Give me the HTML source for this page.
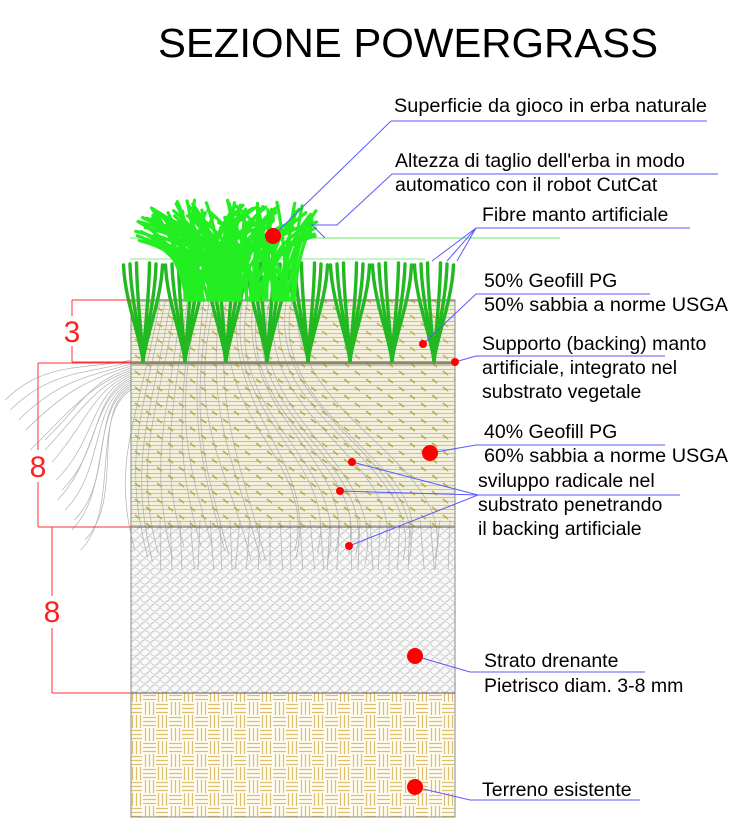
<!DOCTYPE html>
<html><head><meta charset="utf-8"><style>
html,body{margin:0;padding:0;background:#fff;}
svg{display:block;}
text{font-family:"Liberation Sans",sans-serif;}
</style></head><body>
<svg id="s" width="740" height="840" viewBox="0 0 740 840" xmlns="http://www.w3.org/2000/svg">
<defs>
<pattern id="sand" width="12" height="4" patternUnits="userSpaceOnUse">
<rect width="12" height="4" fill="#f3f0dc"/>
<line x1="0" y1="1.5" x2="12" y2="1.5" stroke="#bdb68a" stroke-width="0.8"/>
</pattern>
<pattern id="dash" width="22" height="16" patternUnits="userSpaceOnUse">
<line x1="3" y1="3" x2="8" y2="7" stroke="#b0a030" stroke-width="1.6"/>
<line x1="14" y1="11" x2="19" y2="15" stroke="#b0a030" stroke-width="1.6"/>
</pattern>
<pattern id="grav" width="10" height="9" patternUnits="userSpaceOnUse">
<rect width="10" height="9" fill="#fafafa"/>
<ellipse cx="5" cy="4.5" rx="4.3" ry="3.6" fill="none" stroke="#c8c8c8" stroke-width="0.8"/>
<ellipse cx="0" cy="0" rx="4.3" ry="3.6" fill="none" stroke="#d0d0d0" stroke-width="0.6"/>
<ellipse cx="10" cy="9" rx="4.3" ry="3.6" fill="none" stroke="#d0d0d0" stroke-width="0.6"/>
</pattern>
<pattern id="weave" width="26" height="26" patternUnits="userSpaceOnUse">
<rect width="26" height="26" fill="#fffdf6"/>
<g stroke="#dcc070" stroke-width="1.3">
<line x1="0" y1="2.5" x2="12" y2="2.5"/><line x1="0" y1="6.5" x2="12" y2="6.5"/><line x1="0" y1="10.5" x2="12" y2="10.5"/>
<line x1="15.5" y1="0" x2="15.5" y2="13"/><line x1="19.5" y1="0" x2="19.5" y2="13"/><line x1="23.5" y1="0" x2="23.5" y2="13"/>
<line x1="2.5" y1="13" x2="2.5" y2="26"/><line x1="6.5" y1="13" x2="6.5" y2="26"/><line x1="10.5" y1="13" x2="10.5" y2="26"/>
<line x1="13" y1="15.5" x2="26" y2="15.5"/><line x1="13" y1="19.5" x2="26" y2="19.5"/><line x1="13" y1="23.5" x2="26" y2="23.5"/>
</g>
</pattern>
</defs>

<text x="408" y="57" font-size="41" text-anchor="middle" textLength="500" lengthAdjust="spacingAndGlyphs" fill="#000">SEZIONE POWERGRASS</text>

<rect x="131" y="300" width="324" height="63" fill="url(#sand)"/>
<rect x="131" y="300" width="324" height="63" fill="url(#dash)" opacity="0.7"/>
<rect x="131" y="363" width="324" height="164" fill="url(#sand)"/>
<rect x="131" y="363" width="324" height="164" fill="url(#dash)" opacity="0.8"/>
<rect x="131" y="527" width="324" height="166" fill="url(#grav)"/>
<rect x="131" y="693" width="324" height="124" fill="url(#weave)"/>
<g id="roots" fill="none" stroke="#a8a8a8" stroke-width="0.8" opacity="0.8"></g>
<g fill="none" stroke="#555" stroke-width="1">
<rect x="131" y="300" width="324" height="517" stroke="#888"/>
<line x1="131" y1="300" x2="455" y2="300"/>
<line x1="131" y1="527" x2="455" y2="527"/>
<line x1="131" y1="693" x2="455" y2="693"/>
</g>
<rect x="131" y="361.5" width="324" height="3" fill="#8a8670"/>

<g id="art" fill="none" stroke="#22b822" stroke-width="3.4" stroke-linecap="round"></g>
<line x1="130" y1="238" x2="560" y2="238" stroke="#66ee66" stroke-width="1"/>
<line x1="130" y1="259" x2="425" y2="259" stroke="#88ee88" stroke-width="1"/>
<g id="nat" fill="none" stroke="#22ee22" stroke-width="3.2" stroke-linecap="round"></g>

<g stroke="#ff3030" stroke-width="1" fill="none">
<line x1="72" y1="300" x2="72" y2="362"/><line x1="72" y1="300" x2="131" y2="300"/><line x1="72" y1="362" x2="131" y2="362"/>
<line x1="38" y1="363" x2="38" y2="527"/><line x1="38" y1="363" x2="131" y2="363"/><line x1="38" y1="527" x2="131" y2="527"/>
<line x1="52" y1="527" x2="52" y2="693"/><line x1="52" y1="693" x2="131" y2="693"/>
</g>
<g font-size="30" fill="#ff2020" text-anchor="middle">
<rect x="58" y="316" width="28" height="30" fill="#fff"/>
<text x="72" y="342">3</text>
<rect x="24" y="450" width="28" height="32" fill="#fff"/>
<text x="38" y="477">8</text>
<rect x="38" y="596" width="28" height="32" fill="#fff"/>
<text x="52" y="622">8</text>
</g>

<g stroke="#5a5aff" stroke-width="1" fill="none">
<line x1="391" y1="121" x2="707" y2="121"/><line x1="391" y1="121" x2="273" y2="236"/>
<line x1="392" y1="174" x2="718" y2="174"/><polyline points="392,174 337,225 312,225 325,238"/>
<line x1="476" y1="228" x2="690" y2="228"/><line x1="476" y1="228" x2="432" y2="261"/><line x1="476" y1="228" x2="447" y2="261"/><line x1="476" y1="228" x2="457" y2="261"/>
<line x1="476" y1="294" x2="650" y2="294"/><line x1="476" y1="294" x2="423" y2="344"/>
<line x1="476" y1="356" x2="665" y2="356"/><line x1="476" y1="356" x2="455" y2="362"/>
<line x1="476" y1="445" x2="665" y2="445"/><line x1="476" y1="445" x2="430" y2="453"/>
<line x1="478" y1="495" x2="680" y2="495"/><line x1="478" y1="495" x2="352" y2="462"/><line x1="478" y1="495" x2="340" y2="491"/><line x1="478" y1="495" x2="349" y2="546"/>
<line x1="470" y1="672" x2="645" y2="672"/><line x1="470" y1="672" x2="415" y2="656"/>
<line x1="470" y1="800" x2="640" y2="800"/><line x1="470" y1="800" x2="415" y2="787"/>
</g>
<g fill="#ff0000">
<circle cx="273" cy="236" r="8"/>
<circle cx="423" cy="344" r="4"/>
<circle cx="455" cy="362" r="4"/>
<circle cx="430" cy="453" r="8"/>
<circle cx="352" cy="462" r="4"/>
<circle cx="340" cy="491" r="4"/>
<circle cx="349" cy="546" r="4"/>
<circle cx="415" cy="656" r="8"/>
<circle cx="415" cy="787" r="8"/>
</g>

<g font-size="19.5" fill="#000">
<text x="394" y="112" textLength="313" lengthAdjust="spacingAndGlyphs">Superficie da gioco in erba naturale</text>
<text x="395" y="167">Altezza di taglio dell'erba in modo</text>
<text x="395" y="191">automatico con il robot CutCat</text>
<text x="482" y="221">Fibre manto artificiale</text>
<text x="484" y="287">50% Geofill PG</text>
<text x="484" y="311" textLength="244" lengthAdjust="spacingAndGlyphs">50% sabbia a norme USGA</text>
<text x="482" y="350">Supporto (backing) manto</text>
<text x="482" y="374">artificiale, integrato nel</text>
<text x="482" y="398">substrato vegetale</text>
<text x="484" y="438">40% Geofill PG</text>
<text x="484" y="462" textLength="244" lengthAdjust="spacingAndGlyphs">60% sabbia a norme USGA</text>
<text x="478" y="487">sviluppo radicale nel</text>
<text x="478" y="511">substrato penetrando</text>
<text x="478" y="535">il backing artificiale</text>
<text x="484" y="667">Strato drenante</text>
<text x="484" y="692">Pietrisco diam. 3-8 mm</text>
<text x="482" y="796">Terreno esistente</text>
</g>
</svg>
<script>
(function(){
var NS="http://www.w3.org/2000/svg";
function P(g,d){var p=document.createElementNS(NS,"path");p.setAttribute("d",d);g.appendChild(p);}
var art=document.getElementById("art");
var cs=[143,185,226,267,308,350,392,434];
cs.forEach(function(c){
 for(var i=-3;i<=3;i++){ if(i==0)continue;
  var tx=c+i*6.5, by=361;
  P(art,"M"+c+" "+by+" C"+(c+i*1)+" "+(by-25)+" "+(tx-i*0.5)+" "+(by-60)+" "+tx+" "+(262+Math.abs(i)));
 }
});
var nat=document.getElementById("nat");
var seed=7;function r(){seed=(seed*9301+49297)%233280;return seed/233280;}
for(var k=0;k<120;k++){
 var bx=185+r()*110, by=300;
 var ang=(r()-0.5)*1.5;
 var len=75+r()*30;
 var tx=bx+Math.sin(ang)*len*1.3, ty=by-Math.cos(ang)*len;
 if(tx<135)tx=135+r()*8; if(tx>318)tx=318-r()*8;
 if(ty<200)ty=200+r()*5;
 P(nat,"M"+bx.toFixed(1)+" "+by+" Q"+(bx+(tx-bx)*0.2).toFixed(1)+" "+(by-len*0.6).toFixed(1)+" "+tx.toFixed(1)+" "+ty.toFixed(1));
}
var roots=document.getElementById("roots");
for(var j=0;j<26;j++){
 var x0=160+j*5.5, x1=130+j*12+ (r()-0.5)*20;
 P(roots,"M"+x0+" 300 C"+(x0-30+r()*20)+" 420 "+(x1+ (j<13?-25:25))+" 460 "+x1.toFixed(1)+" "+(545+r()*20).toFixed(1));
}
for(var j=0;j<16;j++){
 var ey=360+j*10, ex=5+j*5+r()*20;
 P(roots,"M131 "+(360+j*2)+" C90 "+(370+j*3)+" "+(ex+40)+" "+(ey)+" "+ex.toFixed(1)+" "+(ey+40).toFixed(1));
}
for(var j=0;j<30;j++){
 var x=160+j*10;
 P(roots,"M"+x+" 520 L"+(x+(r()-0.5)*10)+" 570");
}
})();
</script>
</body></html>
